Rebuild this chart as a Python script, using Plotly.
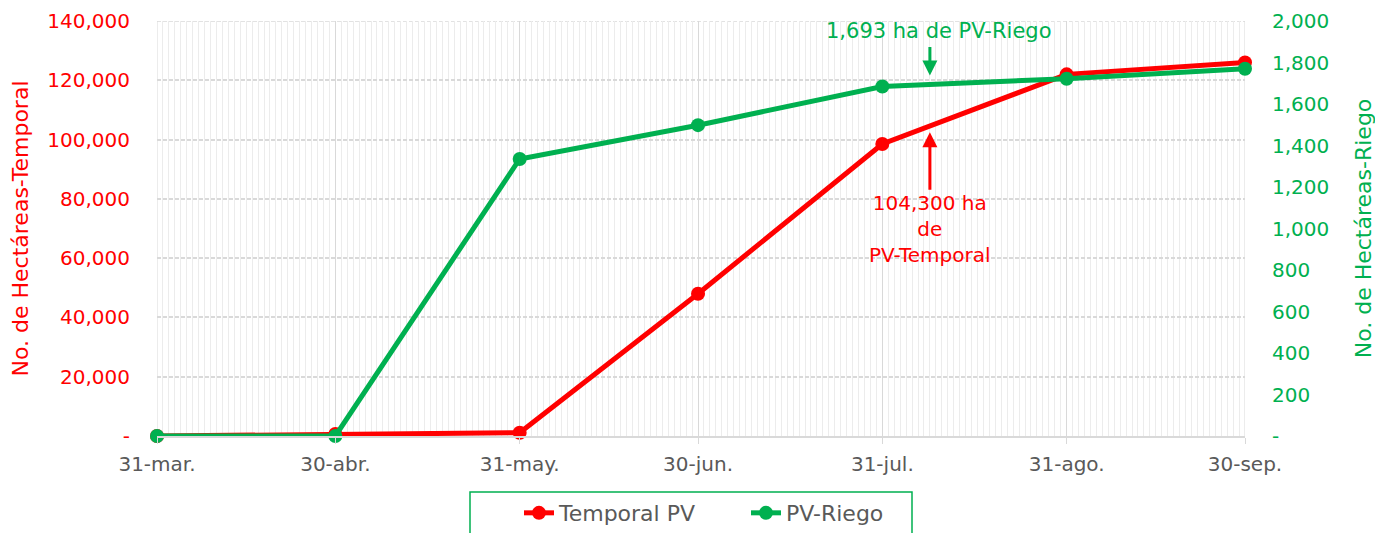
import plotly.graph_objects as go

dates = ["2023-03-31", "2023-04-30", "2023-05-31", "2023-06-30", "2023-07-31", "2023-08-31", "2023-09-30"]
date_labels = ["31-mar.", "30-abr.", "31-may.", "30-jun.", "31-jul.", "31-ago.", "30-sep."]
temporal = [0, 700, 1100, 48000, 98500, 122000, 126000]
riego = [0, 0, 1335, 1498, 1684, 1722, 1770]

left_ticks = [0, 20000, 40000, 60000, 80000, 100000, 120000, 140000]
left_text = ["-", "20,000", "40,000", "60,000", "80,000", "100,000", "120,000", "140,000"]
right_ticks = [0, 200, 400, 600, 800, 1000, 1200, 1400, 1600, 1800, 2000]
right_text = ["-", "200", "400", "600", "800", "1,000", "1,200", "1,400", "1,600", "1,800", "2,000"]

RED = "#FF0000"
GREEN = "#00B050"
GRAY = "#595959"
FONT = "DejaVu Sans"

fig = go.Figure()
fig.add_trace(go.Scatter(x=dates, y=temporal, name="Temporal PV", mode="lines+markers",
                         line=dict(color=RED, width=5), marker=dict(size=14, color=RED),
                         yaxis="y", cliponaxis=False))
fig.add_trace(go.Scatter(x=dates, y=riego, name="PV-Riego", mode="lines+markers",
                         line=dict(color=GREEN, width=5), marker=dict(size=14, color=GREEN),
                         yaxis="y2", cliponaxis=False))

fig.update_layout(
    width=1383, height=533,
    margin=dict(l=149, r=146, t=13, b=105, autoexpand=False),
    paper_bgcolor="white", plot_bgcolor="white",
    font=dict(family=FONT, color=GRAY),
    showlegend=True,
    legend=dict(orientation="h", x=0.3327, xanchor="left", y=-0.135, yanchor="top",
                borderwidth=0, bgcolor="rgba(0,0,0,0)", entrywidth=182,
                font=dict(size=22, color=GRAY, family=FONT)),
    xaxis=dict(type="date", range=["2023-03-31", "2023-09-30"],
               tickvals=dates, ticktext=date_labels,
               tickfont=dict(size=20, color=GRAY),
               showgrid=True, gridcolor="#d9d9d9", gridwidth=1,
               minor=dict(dtick=86400000, showgrid=True, gridcolor="#ececec", gridwidth=1),
               ticks="outside", ticklen=6, tickcolor="#d9d9d9",
               showline=True, linecolor="#d9d9d9", linewidth=2,
               zeroline=False, ticklabelstandoff=3, automargin=False,
               ticklabeloverflow="allow"),
    yaxis=dict(range=[0, 140000], tickvals=left_ticks, ticktext=left_text,
               tickfont=dict(size=20, color=RED),
               title=dict(text="No. de Hectáreas-Temporal", font=dict(size=22, color=RED), standoff=15),
               showgrid=True, gridcolor="#d9d9d9", griddash="4px,2px", gridwidth=1.5,
               zeroline=False, ticklabelstandoff=26, automargin=False,
               ticklabeloverflow="allow"),
    yaxis2=dict(range=[0, 2000], tickvals=right_ticks, ticktext=right_text, overlaying="y", side="right",
                tickfont=dict(size=20, color=GREEN),
                title=dict(text="No. de Hectáreas-Riego", font=dict(size=22, color=GREEN), standoff=27),
                showgrid=False, zeroline=False, ticklabelstandoff=26, automargin=False,
                ticklabeloverflow="allow"),
    shapes=[
        dict(type="rect", xref="paper", yref="paper",
             x0=(470 - 157) / 1088, x1=(912 - 157) / 1088,
             y0=-(545 - 436) / 415, y1=-(492 - 436) / 415,
             line=dict(color=GREEN, width=1.5), fillcolor="rgba(0,0,0,0)", layer="below"),
        dict(type="line", xref="paper", yref="y", x0=0, x1=1, y0=left_ticks[-1], y1=left_ticks[-1],
             line=dict(color="#d9d9d9", width=1.5, dash="4px,2px"), layer="below"),
        dict(type="line", xref="x", yref="paper", x0=dates[0], x1=dates[0], y0=0, y1=1,
             line=dict(color="#d9d9d9", width=1), layer="below"),
        dict(type="line", xref="x", yref="paper", x0=dates[-1], x1=dates[-1], y0=0, y1=1,
             line=dict(color="#d9d9d9", width=1), layer="below"),
    ],
    annotations=[
        dict(x="2023-08-08", y=102500, xref="x", yref="y", text="104,300 ha<br>de<br>PV-Temporal",
             showarrow=True, ax=0, ay=97, arrowcolor=RED, arrowwidth=3, arrowhead=2, arrowsize=1,
             font=dict(size=20, color=RED, family=FONT)),
        dict(x="2023-08-08", y=1737, xref="x", yref="y2", text="",
             showarrow=True, ax=0, ay=-30, arrowcolor=GREEN, arrowwidth=3, arrowhead=2, arrowsize=1),
        dict(x="2023-08-08", y=0.975, xref="x", yref="paper", xshift=9, text="1,693 ha de PV-Riego",
             showarrow=False, yanchor="middle",
             font=dict(size=21, color=GREEN, family=FONT)),
    ],
)

fig.write_html("out.html")
